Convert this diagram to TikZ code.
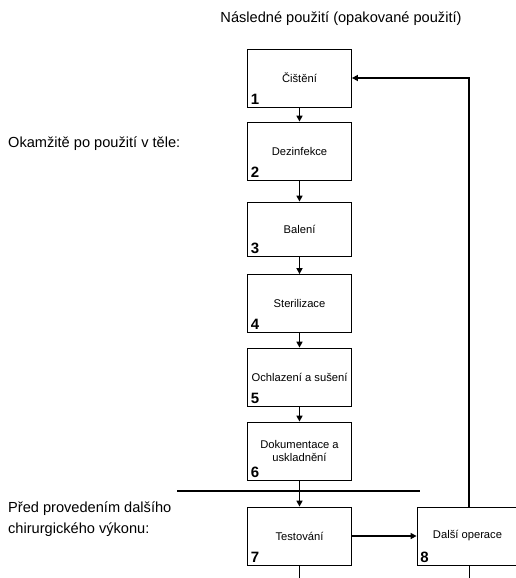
\documentclass[tikz,border=0pt]{standalone}
\usepackage{fontspec}
\setmainfont{Liberation Sans}
\usetikzlibrary{arrows.meta}
\begin{document}
\begin{tikzpicture}[x=1pt,y=-1pt,
  stepbox/.style={draw, line width=0.8pt, minimum width=104pt, minimum height=58pt,
    inner sep=0pt, align=center, font=\fontsize{11.2}{13.5}\selectfont},
  num/.style={anchor=base west, inner sep=0pt, font=\fontsize{15}{16}\selectfont\bfseries},
  flow/.style={line width=1.7pt, -{Triangle[length=6pt,width=6pt]}},
  caption/.style={inner sep=0pt, font=\fontsize{14.6}{20.5}\selectfont}]
\useasboundingbox (0,0) rectangle (515,578);

% heading and phase labels
\node[caption, anchor=base] (title) at (341,23) {Následné použití (opakované použití)};
\node[caption, anchor=base west] (phase1) at (8,147) {Okamžitě po použití v těle:};
\node[caption, anchor=base west, align=left] (phase2) at (8,533)
  {Před provedením dalšího\\chirurgického výkonu:};

% process steps
\node[stepbox] (b1) at (299.5,78)  {Čištění};
\node[stepbox] (b2) at (299.5,151) {Dezinfekce};
\node[stepbox, minimum height=54pt] (b3) at (299.5,229) {Balení};
\node[stepbox] (b4) at (299.5,303.5) {Sterilizace};
\node[stepbox] (b5) at (299.5,377) {Ochlazení a sušení};
\node[stepbox] (b6) at (299.5,451) {Dokumentace a\\uskladnění};
\node[stepbox] (b7) at (299.5,536) {Testování};
\node[stepbox, minimum width=101pt] (b8) at (467.5,536) {Další operace};

% step numbers
\foreach \i in {1,...,8}
  \node[num] (n\i) at ([shift={(3.5pt,3pt)}]b\i.south west) {\i};

% connectors
\draw[flow] (b1) -- (b2);
\draw[flow] (b2) -- (b3);
\draw[flow] (b3) -- (b4);
\draw[flow] (b4) -- (b5);
\draw[flow] (b5) -- (b6);
\draw[flow] (b6) -- (b7);
\draw[flow] (b7) -- (b8);
\draw[flow, line width=2pt] (b8.north -| 469,0) |- (b1.east);

% phase separator
\coordinate (sepL) at (177,491);
\coordinate (sepR) at (420,491);
\draw[line width=2pt] (sepL) -- (sepR);

% lines continuing below the last steps
\coordinate (d7) at (299.5,578);
\coordinate (d8) at (469,578);
\draw[line width=0.9pt] (b7.south) -- (d7);
\draw[line width=0.9pt] (b8.south -| d8) -- (d8);
\end{tikzpicture}
\end{document}
